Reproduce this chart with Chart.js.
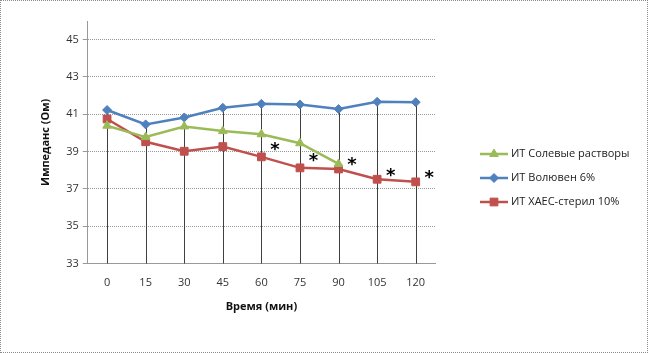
<!DOCTYPE html>
<html>
<head>
<meta charset="utf-8">
<script src="https://cdn.jsdelivr.net/npm/chart.js@4"></script>
<style>
  html, body { margin: 0; padding: 0; background: #fff; }
  #wrap { position: relative; width: 646px; height: 351px; border: 1px dotted #8a8a8a; }
  canvas { display: block; }
</style>
</head>
<body>
<div id="wrap"><canvas id="chart" width="646" height="351"></canvas></div>
<script>
const categories = ['0', '15', '30', '45', '60', '75', '90', '105', '120'];
const salineValues = [40.39, 39.78, 40.35, 40.10, 39.93, 39.45, 38.34, null, null];
const voluvenValues = [41.23, 40.46, 40.83, 41.35, 41.56, 41.53, 41.28, 41.67, 41.65];
const haesValues = [40.75, 39.53, 39.02, 39.27, 38.72, 38.13, 38.07, 37.52, 37.38];
const yTicks = [33, 35, 37, 39, 41, 43, 45];
const asteriskIdx = [4, 5, 6, 7, 8];
const asteriskValues = [39.2, 38.6, 38.35, 37.8, 37.7];

const FONT = "'Open Sans', 'Noto Sans', sans-serif";

// vertical drop lines from the highest point of each category down to the axis
const dropLines = {
    id: 'dropLines',
    beforeDatasetsDraw(chart) {
        const { ctx, chartArea, scales } = chart;
        ctx.save();
        ctx.strokeStyle = '#404040';
        ctx.lineWidth = 1;
        categories.forEach((c, i) => {
            const vals = chart.data.datasets.map(d => d.data[i]).filter(v => v != null);
            const top = scales.y.getPixelForValue(Math.max(...vals));
            const x = Math.round(scales.x.getPixelForValue(i)) + 0.5;
            ctx.beginPath();
            ctx.moveTo(x, top);
            ctx.lineTo(x, chartArea.bottom);
            ctx.stroke();
        });
        ctx.restore();
    }
};

// significance asterisks next to the points
const asterisks = {
    id: 'asterisks',
    afterDatasetsDraw(chart) {
        const { ctx, scales } = chart;
        const step = scales.x.getPixelForValue(1) - scales.x.getPixelForValue(0);
        ctx.save();
        ctx.fillStyle = '#000';
        ctx.font = "bold 18px 'DejaVu Sans', sans-serif";
        ctx.textAlign = 'center';
        ctx.textBaseline = 'middle';
        asteriskIdx.forEach((idx, k) => {
            const x = scales.x.getPixelForValue(idx) + step * 0.35;
            const y = scales.y.getPixelForValue(asteriskValues[k]);
            ctx.fillText('*', x, y + 2);
        });
        ctx.restore();
    }
};

// legend on the right: line sample with marker, then label
const sideLegend = {
    id: 'sideLegend',
    afterDraw(chart) {
        const { ctx } = chart;
        const x0 = 479, y0 = 153, gap = 24;
        ctx.save();
        chart.data.datasets.forEach((ds, i) => {
            const y = y0 + i * gap;
            ctx.strokeStyle = ds.borderColor;
            ctx.lineWidth = 2.5;
            ctx.beginPath();
            ctx.moveTo(x0, y);
            ctx.lineTo(x0 + 28, y);
            ctx.stroke();
            ctx.fillStyle = ds.pointBackgroundColor;
            ctx.strokeStyle = ds.pointBorderColor;
            ctx.lineWidth = 1;
            Chart.helpers.drawPoint(ctx, {
                pointStyle: ds.pointStyle,
                radius: ds.pointRadius,
                borderWidth: 1
            }, x0 + 14, y);
            ctx.fillStyle = '#222';
            ctx.font = '11px ' + FONT;
            ctx.textAlign = 'left';
            ctx.textBaseline = 'middle';
            ctx.fillText(ds.label, x0 + 31, y);
        });
        ctx.restore();
    }
};

function series(label, data, color, style, radius) {
    return {
        label: label,
        data: data,
        borderColor: color,
        backgroundColor: color,
        pointBackgroundColor: color,
        pointBorderColor: color,
        pointStyle: style,
        pointRadius: radius,
        pointBorderWidth: 1,
        borderWidth: 2.5,
        tension: 0,
        spanGaps: false
    };
}

new Chart(document.getElementById('chart'), {
    type: 'line',
    data: {
        labels: categories,
        datasets: [
            series('ИТ Солевые растворы', salineValues, '#9BBB59', 'triangle', 5),
            series('ИТ Волювен 6%', voluvenValues, '#4F81BD', 'rectRot', 4.5),
            series('ИТ ХАЕС-стерил 10%', haesValues, '#C0504D', 'rect', 5.5)
        ]
    },
    options: {
        responsive: false,
        animation: false,
        layout: { padding: { left: 34, right: 212, top: 20, bottom: 39 } },
        plugins: {
            legend: { display: false },
            tooltip: { enabled: false }
        },
        scales: {
            x: {
                offset: true,
                grid: { display: false },
                border: { display: true, color: '#999', dash: [1, 1] },
                ticks: { color: '#333', font: { family: FONT, size: 11 }, padding: 5, maxRotation: 0 },
                title: {
                    display: true,
                    text: 'Время (мин)',
                    color: '#111',
                    font: { family: FONT, size: 11, weight: 'bold' },
                    padding: { top: 5, bottom: 0 }
                }
            },
            y: {
                min: 33,
                max: 46,
                afterBuildTicks: scale => { scale.ticks = yTicks.map(v => ({ value: v })); },
                grid: { color: '#999', tickColor: '#999', tickLength: 5, lineWidth: 1 },
                border: { display: true, color: '#999', dash: [1, 1] },
                ticks: { color: '#333', font: { family: FONT, size: 11 }, padding: 4 },
                title: {
                    display: true,
                    text: 'Импеданс (Ом)',
                    color: '#111',
                    font: { family: FONT, size: 11, weight: 'bold' },
                    padding: { bottom: 10 }
                }
            }
        }
    },
    plugins: [dropLines, asterisks, sideLegend]
});
</script>
</body>
</html>
